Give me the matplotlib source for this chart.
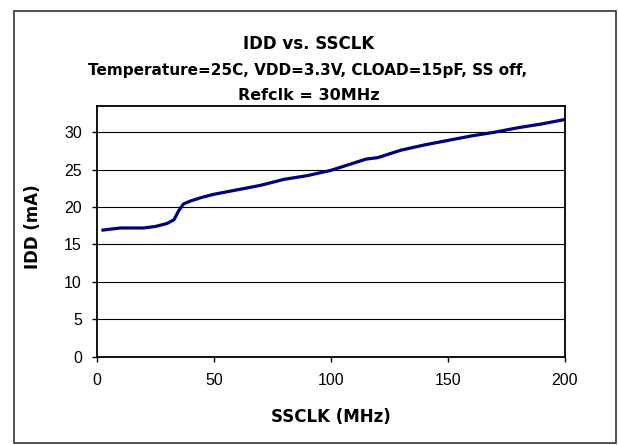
import matplotlib
matplotlib.use('Agg')
import matplotlib.pyplot as plt
from matplotlib.patches import Rectangle

# SSCLK frequency (MHz) and supply current (mA)
ssclk = [2, 10, 20, 25, 30, 33, 35, 37, 40, 45, 50, 60, 70, 75, 80, 90,
         100, 110, 115, 120, 130, 140, 150, 160, 170, 180, 190, 200]
idd = [16.9, 17.2, 17.2, 17.4, 17.8, 18.3, 19.5, 20.4, 20.8, 21.3, 21.7,
       22.3, 22.9, 23.3, 23.7, 24.2, 24.9, 25.9, 26.4, 26.6, 27.6, 28.3,
       28.9, 29.5, 30.0, 30.6, 31.1, 31.7]
xticks = [0, 50, 100, 150, 200]
yticks = [0, 5, 10, 15, 20, 25, 30]

plt.rcParams['font.family'] = ['Liberation Sans', 'DejaVu Sans']
bold = dict(family=['DejaVu Sans'], fontweight='bold')

fig = plt.figure(figsize=(6.18, 4.45), dpi=100)
fig.patches.append(Rectangle((14 / 618, 2 / 445), 602 / 618, 432 / 445,
                             transform=fig.transFigure, fill=False,
                             edgecolor='#333333', linewidth=1.2))

ax = fig.add_axes([0.1565, 0.1984, 0.7577, 0.5634])
ax.plot(ssclk, idd, color='#000080', linewidth=2.3, solid_capstyle='butt')

ax.set_xlim(0, 200)
ax.set_ylim(0, 33.5)
ax.set_xticks(xticks)
ax.set_yticks(yticks)
ax.yaxis.grid(True, color='black', linewidth=0.8)
ax.set_axisbelow(True)
ax.tick_params(direction='out', length=3.6, width=1, labelsize=11.5)
ax.tick_params(axis='x', pad=8)
ax.tick_params(axis='y', pad=7)
for s in ax.spines.values():
    s.set_linewidth(1.3)
    s.set_color('black')

ax.set_xlabel('SSCLK (MHz)', fontsize=12, **bold)
ax.set_ylabel('IDD (mA)', fontsize=12, **bold)
ax.xaxis.set_label_coords(0.5, -0.205)
ax.yaxis.set_label_coords(-0.116, 0.52)

fig.text(0.5, 1 - 44 / 445, 'IDD vs. SSCLK', ha='center', va='center',
         fontsize=12, **bold)
fig.text(0.497, 1 - 70 / 445, 'Temperature=25C, VDD=3.3V, CLOAD=15pF, SS off,',
         ha='center', va='center', fontsize=11, **bold)
fig.text(0.5, 1 - 96 / 445, 'Refclk = 30MHz', ha='center', va='center',
         fontsize=11.5, **bold)

fig.savefig('out.png', dpi=100)
